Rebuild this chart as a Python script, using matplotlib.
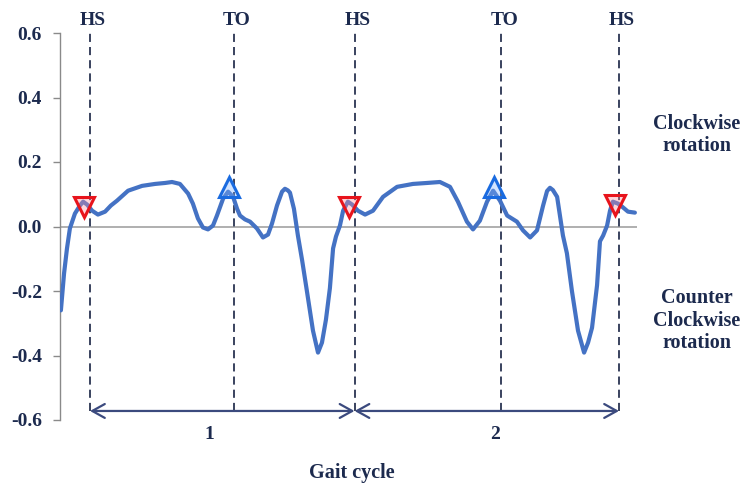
import matplotlib
matplotlib.use("Agg")
import matplotlib.pyplot as plt
from matplotlib.patches import FancyArrowPatch

# Angular velocity over two gait cycles (x in % of gait cycle, HS = 0, 100, 200)
t = [-11.0, -9.8, -8.7, -7.6, -5.7, -3.8, -2.6, -1.1, 0.8, 3.0, 5.7, 7.9, 10.2,
     14.4, 19.7, 24.6, 28.4, 31.0, 34.0, 37.1, 38.9, 40.8, 42.7, 44.6, 46.5,
     48.0, 50.3, 52.2, 54.1, 55.6, 56.7, 58.6, 60.5, 63.1, 65.4, 67.3, 68.8,
     70.7, 72.6, 73.7, 74.8, 75.6, 77.1, 78.6, 80.2, 82.0, 84.3, 86.2, 87.7,
     89.2, 90.7, 91.9, 93.0, 94.5, 95.7, 97.5, 99.1, 101.3, 104.0, 107.0,
     110.8, 116.1, 122.1, 127.4, 132.3, 136.1, 139.1, 142.5, 144.8, 147.4,
     150.1, 152.4, 155.0, 157.7, 161.4, 163.7, 166.4, 169.0, 171.3, 172.8,
     173.9, 175.0, 176.6, 178.8, 180.3, 182.2, 184.5, 186.8, 188.3, 189.8,
     191.7, 192.8, 194.0, 195.5, 196.6, 197.7, 199.6, 201.1, 203.4, 206.0]
omega = [-0.26, -0.145, -0.068, -0.006, 0.040, 0.065, 0.077, 0.068, 0.049,
         0.037, 0.046, 0.065, 0.080, 0.111, 0.126, 0.132, 0.135, 0.138, 0.132,
         0.102, 0.071, 0.025, -0.003, -0.009, 0.003, 0.034, 0.086, 0.108,
         0.092, 0.055, 0.034, 0.022, 0.015, -0.006, -0.034, -0.025, 0.009,
         0.065, 0.108, 0.117, 0.112, 0.105, 0.055, -0.028, -0.105, -0.200,
         -0.323, -0.391, -0.360, -0.289, -0.191, -0.068, -0.031, 0.003, 0.049,
         0.077, 0.068, 0.049, 0.037, 0.049, 0.092, 0.123, 0.132, 0.135, 0.138,
         0.123, 0.077, 0.015, -0.009, 0.018, 0.077, 0.111, 0.080, 0.034, 0.015,
         -0.012, -0.034, -0.012, 0.065, 0.110, 0.120, 0.113, 0.092, -0.028,
         -0.083, -0.200, -0.323, -0.391, -0.360, -0.314, -0.182, -0.046,
         -0.028, 0.003, 0.049, 0.077, 0.071, 0.062, 0.046, 0.043]

# Gait events
hs_x = [0, 100, 200]
to_x = [54.4, 155.4]
hs_marker_x = [-2.3, 97.9, 198.5]
hs_marker_y = [0.062, 0.062, 0.066]
to_marker_x = [52.6, 152.7]
to_marker_y = [0.123, 0.123]

cycle_labels = ["1", "2"]
cycle_label_x = [45, 153]
y_ticks = [-0.6, -0.4, -0.2, 0.0, 0.2, 0.4, 0.6]

navy = "#1c2a4e"
serif = ["Liberation Serif", "DejaVu Serif"]
plt.rcParams["font.family"] = serif
plt.rcParams["font.weight"] = "bold"

fig = plt.figure(figsize=(7.44, 4.87), dpi=100)
ax = fig.add_axes([60 / 744, 67 / 487, 577 / 744, 387 / 487])
ax.set_xlim(-11.34, 206.8)
ax.set_ylim(-0.6, 0.6)

for s in ["top", "right", "bottom"]:
    ax.spines[s].set_visible(False)
ax.spines["left"].set_color("#8a8a8a")
ax.spines["left"].set_linewidth(1.0)
ax.set_xticks([])
ax.set_yticks(y_ticks)
ax.set_yticklabels([f"{v:.1f}".replace("-0.0", "0.0") for v in y_ticks])
ax.tick_params(axis="y", length=5, width=1.0, color="#8a8a8a", pad=8,
               labelsize=14, labelcolor=navy)
for lbl in ax.get_yticklabels():
    lbl.set_fontweight("bold")

ax.axhline(0, color="#9a9a9a", lw=1.1, zorder=1)

# event lines
for x in hs_x + to_x:
    ax.plot([x, x], [-0.572, 0.6], color="#2a3452", lw=1.3,
            linestyle=(0, (4.5, 2.8)), zorder=2, clip_on=False)
for x in hs_x:
    ax.text(x + 1.2, 0.638, "HS", ha="center", va="center", fontsize=14,
            fontweight="bold", color=navy)
for x in to_x:
    ax.text(x + 1.2, 0.638, "TO", ha="center", va="center", fontsize=14,
            fontweight="bold", color=navy)

ax.plot(t, omega, color="#4472C4", lw=3.0, solid_joinstyle="round",
        solid_capstyle="round", zorder=3)

ax.plot(hs_marker_x, hs_marker_y, linestyle="none", marker="v", ms=14.5,
        mew=2.2, mec="#e8141c", mfc=(1.0, 0.55, 0.6, 0.35), zorder=4)
ax.plot(to_marker_x, to_marker_y, linestyle="none", marker="^", ms=14.5,
        mew=2.2, mec="#1a6be0", mfc=(0.5, 0.7, 1.0, 0.35), zorder=4)

# gait cycle spans
for a, b in zip(hs_x[:-1], hs_x[1:]):
    arr = FancyArrowPatch((a, -0.572), (b, -0.572),
                          arrowstyle="<->,head_length=0.45,head_width=0.25",
                          mutation_scale=20, color="#3b4a7e", lw=1.6,
                          shrinkA=0, shrinkB=0, clip_on=False, zorder=3)
    ax.add_patch(arr)
for x, s in zip(cycle_label_x, cycle_labels):
    ax.text(x, -0.645, s, ha="center", va="center", fontsize=14,
            fontweight="bold", color=navy)

ax.text(99, -0.765, "Gait cycle", ha="center", va="center", fontsize=14.5,
        fontweight="bold", color=navy, clip_on=False)

ax.text(229.5, 0.283, "Clockwise\nrotation", ha="center", va="center",
        fontsize=14.5, fontweight="bold", color=navy, linespacing=1.15,
        clip_on=False)
ax.text(229.5, -0.292, "Counter\nClockwise\nrotation", ha="center",
        va="center", fontsize=14.5, fontweight="bold", color=navy,
        linespacing=1.15, clip_on=False)

fig.savefig("out.png", dpi=100)
